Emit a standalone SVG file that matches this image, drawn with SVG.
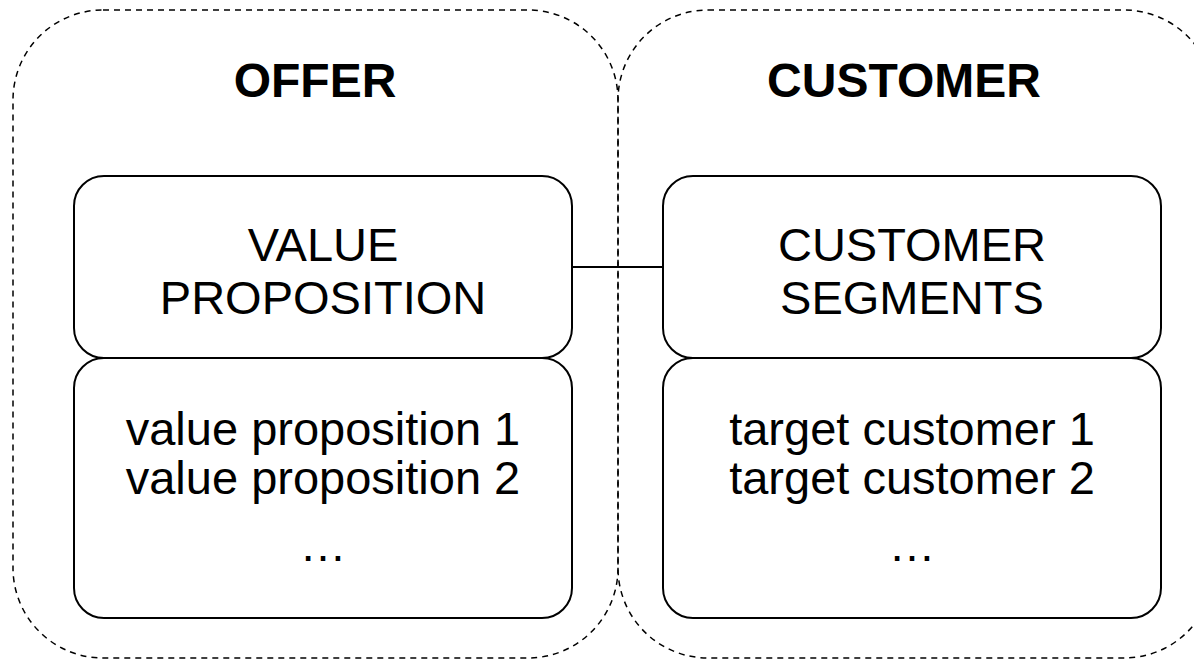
<svg xmlns="http://www.w3.org/2000/svg" width="1194" height="660" viewBox="0 0 1194 660">
  <style>
    .group { fill: none; stroke: #000; stroke-width: 1.5; stroke-dasharray: 6 5; }
    .box { fill: #fff; stroke: #000; stroke-width: 2; }
    .title { font-family: "Liberation Sans", Arial, sans-serif; font-weight: bold; font-size: 48px; fill: #000; text-anchor: middle; }
    .label { font-family: "Liberation Sans", Arial, sans-serif; font-size: 47px; fill: #000; text-anchor: middle; }
    .link { stroke: #000; stroke-width: 2; fill: none; }
  </style>
  <rect width="1194" height="660" fill="#fff"/>

  <!-- dashed containers -->
  <g id="offer">
    <rect class="group" x="13" y="10" width="605" height="648" rx="90" ry="90"/>
    <text class="title" x="315" y="97">OFFER</text>
  </g>
  <g id="customer">
    <rect class="group" x="618" y="10" width="596" height="648" rx="90" ry="90"/>
    <text class="title" x="904" y="97">CUSTOMER</text>
  </g>

  <!-- connectors -->
  <g id="connectors">
    <line class="link" x1="572" y1="267" x2="663" y2="267"/>
  </g>

  <g id="value-proposition">
    <rect class="box" x="74" y="176" width="498" height="182" rx="30" ry="30"/>
    <text class="label" x="323" y="261">VALUE</text>
    <text class="label" x="323" y="314">PROPOSITION</text>
  </g>
  <g id="value-proposition-list">
    <rect class="box" x="74" y="358" width="498" height="260" rx="30" ry="30"/>
    <text class="label" x="323" y="445">value proposition 1</text>
    <text class="label" x="323" y="494">value proposition 2</text>
    <text class="label" x="323" y="561">…</text>
  </g>

  <g id="customer-segments">
    <rect class="box" x="663" y="176" width="498" height="182" rx="30" ry="30"/>
    <text class="label" x="912" y="261">CUSTOMER</text>
    <text class="label" x="912" y="314">SEGMENTS</text>
  </g>
  <g id="customer-list">
    <rect class="box" x="663" y="358" width="498" height="260" rx="30" ry="30"/>
    <text class="label" x="912" y="445">target customer 1</text>
    <text class="label" x="912" y="494">target customer 2</text>
    <text class="label" x="912" y="561">…</text>
  </g>
</svg>
